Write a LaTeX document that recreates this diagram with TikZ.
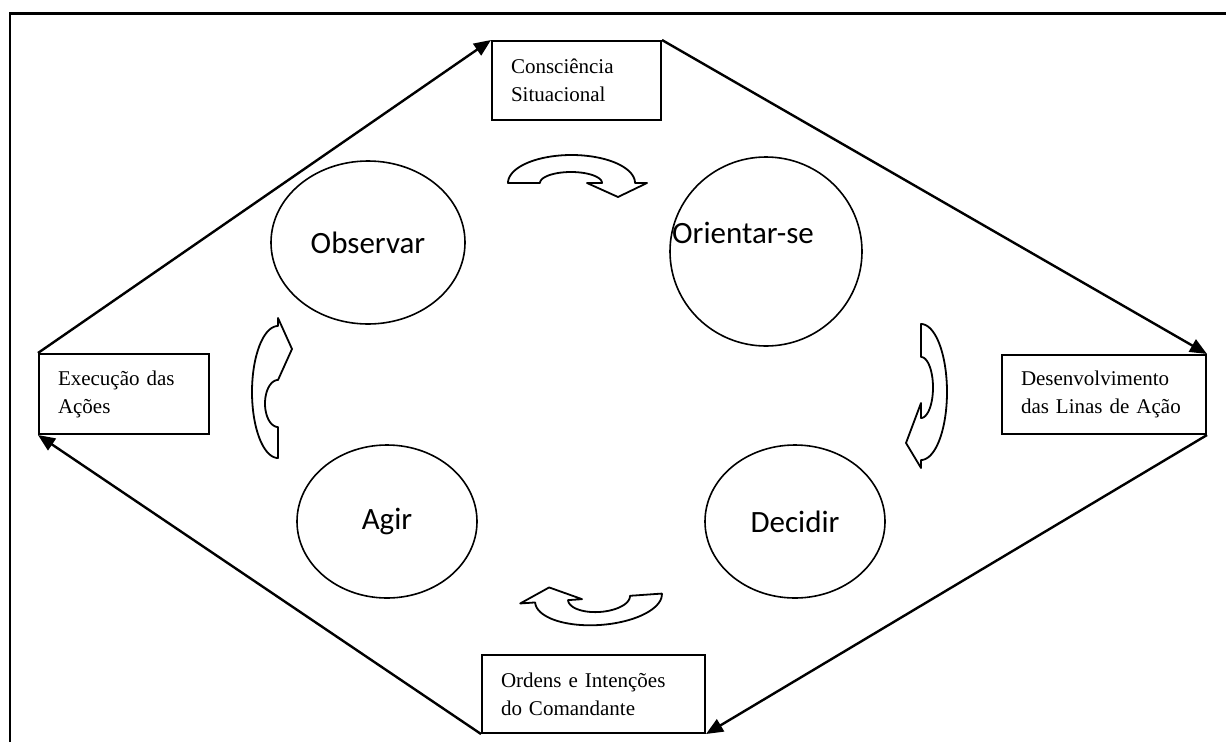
\documentclass[tikz,border=0pt]{standalone}
\usepackage{fontspec}
\setmainfont{Liberation Serif}
\newfontfamily\calibrifont{Carlito}
\usetikzlibrary{arrows.meta,shapes.geometric}
\begin{document}
\begin{tikzpicture}[x=1pt,y=-1pt,
  box/.style={draw, line width=2pt, rectangle, inner xsep=19pt, inner ysep=0pt, align=left, font=\fontsize{21}{28}\selectfont},
  circ/.style={draw, ellipse, line width=1.6pt, inner sep=0pt, font=\calibrifont\fontsize{31}{37}\selectfont},
  ctext/.style={inner sep=0pt, font=\calibrifont\fontsize{31}{37}\selectfont},
  conn/.style={line width=2.4pt, -{Triangle[length=17pt,width=14pt]}},
  barrow/.style={draw, line width=1.8pt, fill=white, line join=round},
  frameline/.style={line width=2.4pt}
]
\useasboundingbox (0,0) rectangle (1226,742);
% frame
\draw[frameline] (10,742) -- (10,13.3) -- (1226,13.3);

% boxes
\node[box, minimum width=169pt, minimum height=79pt, text width=131pt] (con) at (576.5,80.5) {Consciência\\Situacional};
\node[box, minimum width=204pt, minimum height=79pt, text width=166pt] (des) at (1104,394.5) {Desenvolvimento\\das Linas de Ação};
\node[box, minimum width=170pt, minimum height=80pt, text width=132pt] (exe) at (124,394) {Execução das\\Ações};
\node[box, minimum width=223pt, minimum height=78pt, text width=185pt] (ord) at (593.5,694) {Ordens e Intenções\\do Comandante};

% outer connectors
\draw[conn] (exe.north west) -- (con.north west);
\draw[conn] (con.north east) -- (des.north east);
\draw[conn] (des.south east) -- (ord.south east);
\draw[conn] (ord.south west) -- (exe.south west);

% ellipses
\node[circ, minimum width=194pt, minimum height=163pt] (obs) at (368,242.5) {Observar};
\node[circ, minimum width=192pt, minimum height=189pt] (ori) at (766,251.5) {};
\node[ctext] (orit) at (743,233) {Orientar-se};
\node[circ, minimum width=180pt, minimum height=153pt] (dec) at (795,521.5) {Decidir};
\node[circ, minimum width=180pt, minimum height=153pt] (agi) at (387,521.5) {Agir};

% top curved block arrow
\draw[barrow] (508,183) -- plot[domain=180:360,samples=60] ({571.5+63.5*cos(\x)},{183+28*sin(\x)})
  -- (647,183) -- (618,197) -- (587,183)
  -- plot[domain=360:180,samples=60] ({571+31*cos(\x)},{183+11*sin(\x)}) -- cycle;

% right curved block arrow
\draw[barrow] (921,324) -- plot[domain=-90:90,samples=60] ({921+26*cos(\x)},{392+68*sin(\x)})
  -- (921,468) -- (906,443) -- (921,403)
  -- plot[domain=90:-90,samples=60] ({921+12*cos(\x)},{387.5+30.5*sin(\x)}) -- cycle;

% bottom curved block arrow
\begin{scope}[rotate around={4:(598.5,598)}]
\draw[barrow] (535,598) -- plot[domain=180:0,samples=60] ({598.5+63.5*cos(\x)},{598+27*sin(\x)})
  -- plot[domain=0:180,samples=60] ({599+31*cos(\x)},{598+14*sin(\x)})
  -- (582,598) -- (550,584) -- (520,598) -- cycle;
\end{scope}

% left curved block arrow
\draw[barrow] (278,458) -- plot[domain=90:270,samples=60] ({278+26*cos(\x)},{392+66*sin(\x)})
  -- (278,318) -- (292,349) -- (278,380)
  -- plot[domain=270:90,samples=60] ({278+13*cos(\x)},{403.5+23.5*sin(\x)}) -- cycle;
\end{tikzpicture}
\end{document}
